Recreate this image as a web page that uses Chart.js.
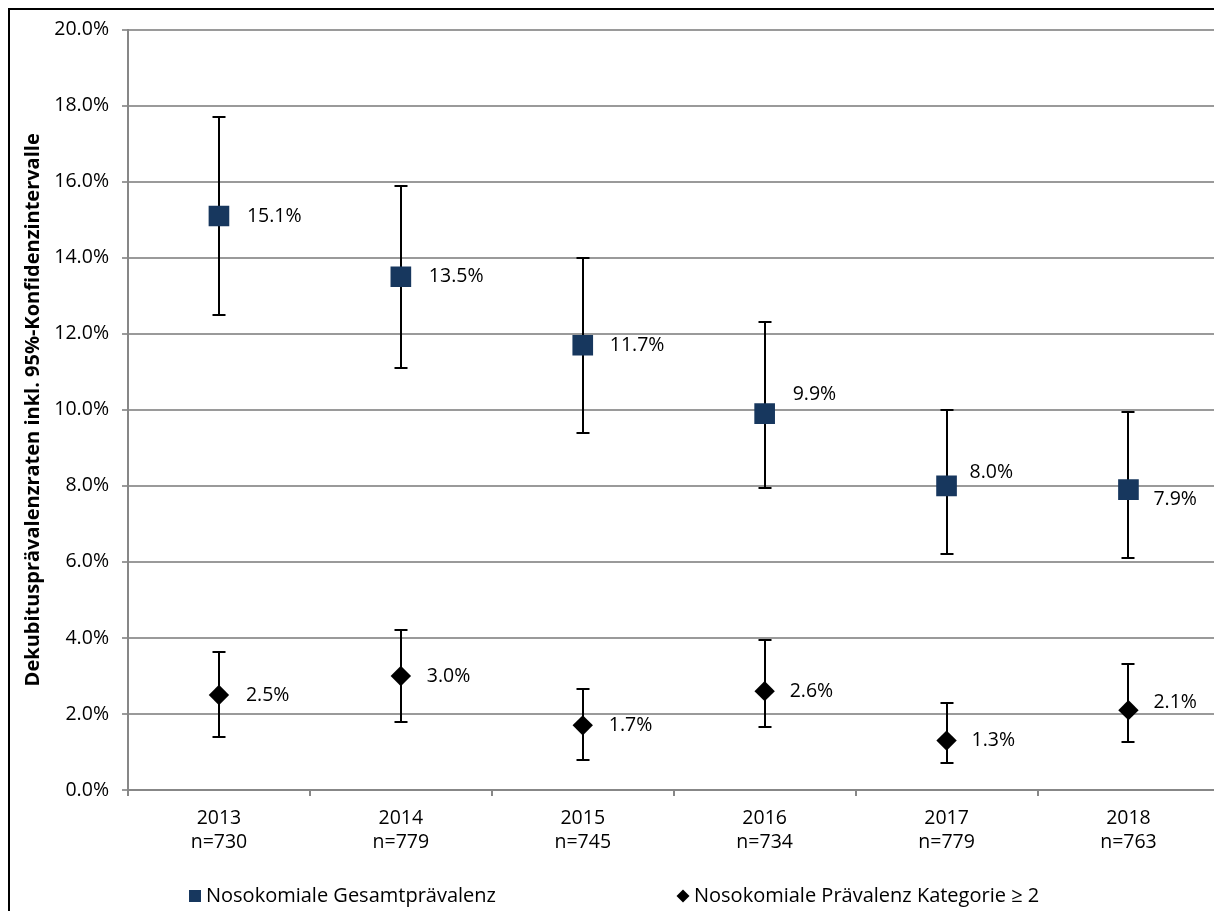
<!DOCTYPE html>
<html lang="de">
<head>
<meta charset="utf-8">
<title>Dekubitusprävalenz 2013–2018</title>
<script src="https://cdn.jsdelivr.net/npm/chart.js@4/dist/chart.umd.min.js"></script>
<style>
  html, body { margin: 0; padding: 0; background: #fff; overflow: hidden; width: 1214px; height: 911px; }
  #frame {
    position: absolute; left: 10px; top: 10px;
    width: 1204px; height: 901px; overflow: hidden;
  }
  .edge { position: absolute; background: #000; z-index: 5; }
  #edgeTop { left: 8px; top: 8px; width: 1206px; height: 2px; }
  #edgeLeft { left: 8px; top: 8px; width: 2px; height: 903px; }
  #chart { display: block; position: absolute; left: 0; top: -5px; }
</style>
</head>
<body>
<div class="edge" id="edgeTop"></div>
<div class="edge" id="edgeLeft"></div>
<div id="frame"><canvas id="chart" width="1224" height="906"></canvas></div>
<script>
// Survey years and sample sizes (x-axis, two lines per category)
const years = ['2013', '2014', '2015', '2016', '2017', '2018'];
const sampleSizes = ['n=730', 'n=779', 'n=745', 'n=734', 'n=779', 'n=763'];

// Nosokomiale Gesamtprävalenz (%) with 95% confidence limits
const gesamt = [15.1, 13.5, 11.7, 9.9, 8.0, 7.9];
const gesamtLower = [12.5, 11.1, 9.4, 7.95, 6.2, 6.1];
const gesamtUpper = [17.7, 15.9, 14.0, 12.3, 10.0, 9.95];

// Nosokomiale Prävalenz Kategorie >= 2 (%) with 95% confidence limits
const kategorie2 = [2.5, 3.0, 1.7, 2.6, 1.3, 2.1];
const kategorie2Lower = [1.4, 1.8, 0.8, 1.65, 0.7, 1.27];
const kategorie2Upper = [3.63, 4.21, 2.65, 3.95, 2.28, 3.32];

// y-axis ticks
const yTicks = [0, 2, 4, 6, 8, 10, 12, 14, 16, 18, 20];

const FONT = "'Open Sans', 'Noto Sans', sans-serif";
const FONT_SIZE = 19.5;
const NAVY = '#17375E';

// Manual nudges of the value labels (pixels, relative to the marker centre)
const labelShift = [
  [[28, 0], [28, 0], [27, 0], [28, -19], [23, -13], [25, 10]],
  [[27, 0], [26, 0], [26, 0], [25, 0], [25, 0], [25, -8]]
];

// Vertical confidence-interval whiskers, drawn below the markers
const errorBars = {
  id: 'errorBars',
  beforeDatasetsDraw(chart) {
    const { ctx } = chart;
    const x = chart.scales.x, y = chart.scales.y;
    const cap = 6.5;
    ctx.save();
    ctx.strokeStyle = '#000';
    ctx.lineWidth = 2;
    chart.data.datasets.forEach((ds, i) => {
      if (!chart.isDatasetVisible(i)) return;
      ds.lower.forEach((lo, j) => {
        const px = Math.round(x.getPixelForValue(j));
        const yTop = Math.round(y.getPixelForValue(ds.upper[j]));
        const yBot = Math.round(y.getPixelForValue(lo));
        ctx.beginPath();
        ctx.moveTo(px, yTop); ctx.lineTo(px, yBot);
        ctx.moveTo(px - cap, yTop); ctx.lineTo(px + cap, yTop);
        ctx.moveTo(px - cap, yBot); ctx.lineTo(px + cap, yBot);
        ctx.stroke();
      });
    });
    ctx.restore();
  }
};

// Percentage labels next to each marker
const valueLabels = {
  id: 'valueLabels',
  afterDatasetsDraw(chart) {
    const { ctx } = chart;
    ctx.save();
    ctx.font = FONT_SIZE + 'px ' + FONT;
    ctx.fillStyle = '#000';
    ctx.textAlign = 'left';
    ctx.textBaseline = 'middle';
    chart.data.datasets.forEach((ds, i) => {
      const meta = chart.getDatasetMeta(i);
      meta.data.forEach((pt, j) => {
        const [dx, dy] = labelShift[i][j];
        ctx.fillText(ds.data[j].toFixed(1) + '%', pt.x + dx, pt.y + dy);
      });
    });
    ctx.restore();
  }
};

// Legend row at the bottom, built from the dataset labels and colours
const bottomLegend = {
  id: 'bottomLegend',
  afterDraw(chart) {
    const { ctx } = chart;
    const yc = 891;
    const items = chart.data.datasets;
    const slots = [179, 667];
    ctx.save();
    ctx.font = '20px ' + FONT;
    ctx.textBaseline = 'middle';
    ctx.textAlign = 'left';
    items.forEach((ds, i) => {
      const x0 = slots[i];
      ctx.fillStyle = ds.backgroundColor;
      if (ds.pointStyle === 'rect') {
        ctx.fillRect(x0, yc - 6, 12, 12);
      } else {
        const cx = x0 + 6;
        ctx.beginPath();
        ctx.moveTo(cx, yc - 6.5); ctx.lineTo(cx + 6.5, yc);
        ctx.lineTo(cx, yc + 6.5); ctx.lineTo(cx - 6.5, yc);
        ctx.closePath(); ctx.fill();
      }
      ctx.fillStyle = '#000';
      ctx.fillText(ds.label, x0 + 17, yc);
    });
    ctx.restore();
  }
};

new Chart(document.getElementById('chart'), {
  type: 'line',
  data: {
    labels: years.map((yr, i) => [yr, sampleSizes[i]]),
    datasets: [
      {
        label: 'Nosokomiale Gesamtprävalenz',
        data: gesamt,
        lower: gesamtLower,
        upper: gesamtUpper,
        showLine: false,
        pointStyle: 'rect',
        pointRadius: 14.6,
        pointHoverRadius: 14.6,
        backgroundColor: NAVY,
        borderColor: NAVY,
        pointBorderWidth: 0
      },
      {
        label: 'Nosokomiale Prävalenz Kategorie \u2265 2',
        data: kategorie2,
        lower: kategorie2Lower,
        upper: kategorie2Upper,
        showLine: false,
        pointStyle: 'rectRot',
        pointRadius: 10.2,
        pointHoverRadius: 10.2,
        backgroundColor: '#000',
        borderColor: '#000',
        pointBorderWidth: 0
      }
    ]
  },
  options: {
    responsive: false,
    animation: false,
    events: [],
    layout: { padding: { top: 0, right: 3, bottom: 61, left: 0 } },
    plugins: {
      legend: { display: false },
      tooltip: { enabled: false }
    },
    scales: {
      x: {
        type: 'category',
        offset: true,
        afterFit(scale) { scale.height = 60; },
        grid: {
          display: true,
          drawOnChartArea: false,
          drawTicks: true,
          tickLength: 6,
          offset: true,
          color: '#878787',
          lineWidth: 2
        },
        border: { display: true, color: '#878787', width: 2 },
        ticks: {
          color: '#000',
          font: { family: FONT, size: FONT_SIZE, lineHeight: 1.2 },
          padding: 11,
          maxRotation: 0,
          autoSkip: false
        }
      },
      y: {
        min: 0,
        max: 20,
        afterFit(scale) { scale.width = 118; },
        afterBuildTicks(scale) { scale.ticks = yTicks.map(v => ({ value: v })); },
        grid: {
          color: '#9a9a9a',
          lineWidth: 2,
          drawTicks: true,
          tickLength: 6
        },
        border: { display: true, color: '#878787', width: 2 },
        ticks: {
          color: '#000',
          font: { family: FONT, size: FONT_SIZE },
          padding: 13,
          callback: v => v.toFixed(1) + '%'
        },
        title: {
          display: true,
          text: 'Dekubitusprävalenzraten inkl. 95%-Konfidenzintervalle',
          color: '#000',
          font: { family: FONT, size: 20, weight: 'bold', lineHeight: 1.2 },
          padding: { top: 11, bottom: 0 }
        }
      }
    }
  },
  plugins: [errorBars, valueLabels, bottomLegend]
});
</script>
</body>
</html>
